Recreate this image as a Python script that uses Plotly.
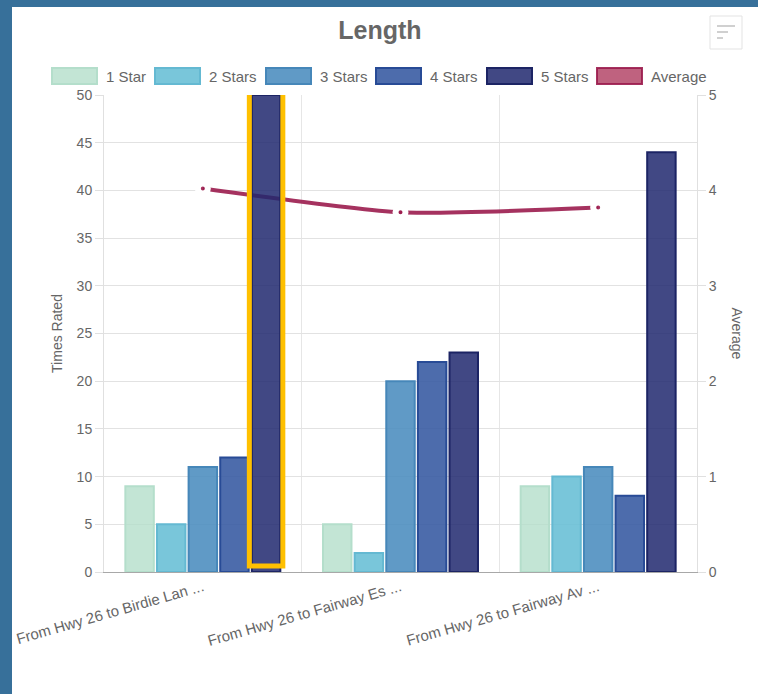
import plotly.graph_objects as go

categories = ["From Hwy 26 to Birdie Lan ...", "From Hwy 26 to Fairway Es ...", "From Hwy 26 to Fairway Av ..."]
series_names = ["1 Star", "2 Stars", "3 Stars", "4 Stars", "5 Stars"]
one_star = [9, 5, 9]
two_stars = [5, 2, 10]
three_stars = [11, 20, 11]
four_stars = [12, 22, 8]
five_stars = [50, 23, 44]
average = [4.02, 3.77, 3.82]
highlight_category = 0
highlight_series = 4

series_values = [one_star, two_stars, three_stars, four_stars, five_stars]
fills = ["rgba(180,222,203,0.8)", "rgba(106,192,214,0.9)", "rgba(74,140,190,0.88)",
         "rgba(52,88,160,0.88)", "rgba(32,40,110,0.85)"]
borders = ["rgba(180,222,203,1)", "rgba(100,185,210,1)", "rgba(70,135,185,1)",
           "rgba(40,75,150,1)", "rgba(28,36,100,1)"]
avg_color = "rgba(155,28,78,0.9)"
avg_fill = "rgba(180,70,105,0.85)"
font_family = "Liberation Sans, Arial, sans-serif"
text_color = "#666666"

# plot area in pixels (used to place decorations in paper coordinates)
W, H = 758, 694
L, R, T, B = 104, 61, 95, 122
PW, PH = W - L - R, H - T - B


def px(x):
    return (x - L) / PW


def py(y):
    return (H - B - y) / PH


fig = go.Figure()

# line on primary (right) axis so the bars draw above it
fig.add_trace(go.Scatter(
    x=categories, y=average, name="Average", yaxis="y", mode="lines+markers",
    line=dict(color=avg_color, width=4, shape="spline", smoothing=0.6),
    marker=dict(size=10, color=avg_color, line=dict(color="white", width=6)),
    showlegend=False,
))

for i, (name, vals) in enumerate(zip(series_names, series_values)):
    fig.add_trace(go.Bar(
        x=categories, y=vals, name=name, yaxis="y2",
        marker=dict(color=fills[i], line=dict(color=borders[i], width=2)),
        showlegend=False,
    ))

# highlight box around selected bar computed from bar layout parameters
bargap = 0.2
bargroupgap = 0.1
n = len(series_names)
slot = (1 - bargap) / n
center = highlight_category - (1 - bargap) / 2 + slot * (highlight_series + 0.5)
half = slot * (1 - bargroupgap) / 2
pad = 0.0127
fig.add_shape(type="rect", xref="x", yref="y2",
              x0=center - half - pad, x1=center + half + pad,
              y0=0.63, y1=series_values[highlight_series][highlight_category] + 0.26,
              line=dict(color="#FFC000", width=5), layer="above")

# outer blue frame
frame = "#37709A"
fig.add_shape(type="rect", xref="paper", yref="paper", x0=px(-5), x1=px(12), y0=py(H + 5), y1=py(-5),
              fillcolor=frame, line_width=0, layer="below")
fig.add_shape(type="rect", xref="paper", yref="paper", x0=px(-5), x1=px(W + 5), y0=py(7), y1=py(-5),
              fillcolor=frame, line_width=0, layer="below")
# menu icon
fig.add_shape(type="rect", xref="paper", yref="paper", x0=px(710), x1=px(742), y0=py(49), y1=py(16),
              fillcolor="white", line=dict(color="#e3e3e3", width=1))
for yy, xe in [(26, 735), (32, 728), (38, 723)]:
    fig.add_shape(type="line", xref="paper", yref="paper", x0=px(717), x1=px(xe), y0=py(yy), y1=py(yy),
                  line=dict(color="#d0d0d0", width=2))

# legend drawn as boxes + labels
legend_names = series_names + ["Average"]
legend_fills = fills + [avg_fill]
legend_borders = borders + [avg_color]
legend_x = [52, 155, 266, 376, 487, 597]
annotations = []
for name, fc, bc, x0 in zip(legend_names, legend_fills, legend_borders, legend_x):
    fig.add_shape(type="rect", xref="paper", yref="paper", x0=px(x0), x1=px(x0 + 45),
                  y0=py(84), y1=py(68), fillcolor=fc, line=dict(color=bc, width=2))
    annotations.append(dict(text=name, xref="paper", yref="paper", x=px(x0 + 52), y=py(76.5),
                            xanchor="left", yanchor="middle", showarrow=False,
                            font=dict(size=15, color=text_color)))

annotations.append(dict(text="Average", textangle=90, xref="paper", yref="paper", x=px(727), y=0.5,
                        xanchor="left", yanchor="middle", showarrow=False,
                        font=dict(size=14, color=text_color)))

fig.update_layout(
    width=W, height=H,
    margin=dict(l=L, r=R, t=T, b=B),
    paper_bgcolor="white", plot_bgcolor="white",
    font=dict(family=font_family, color=text_color, size=14),
    title=dict(text="<b>Length</b>", x=380 / W, xref="container", xanchor="center",
               y=1 - 30 / H, yanchor="middle", font=dict(size=25, color=text_color)),
    barmode="group", bargap=bargap, bargroupgap=bargroupgap,
    showlegend=False,
    xaxis=dict(type="category", tickson="boundaries", showgrid=True, gridcolor="#e6e6e6",
               tickangle=-16, ticks="", showline=True, linecolor="#a8a8a8",
               tickfont=dict(size=15, color=text_color), range=[-0.5, 2.5]),
    yaxis2=dict(range=[0, 50], dtick=5, showgrid=True, gridcolor="#e2e2e2", zeroline=False,
                overlaying="y", side="left",
                ticks="outside", ticklen=8, tickcolor="#e0e0e0", showline=True, linecolor="#e0e0e0",
                title=dict(text="Times Rated", font=dict(size=14, color=text_color), standoff=10),
                tickfont=dict(size=14, color=text_color)),
    yaxis=dict(range=[0, 5], dtick=1, side="right", showgrid=False,
               zeroline=False, ticks="outside", ticklen=8, tickcolor="#e0e0e0",
               showline=True, linecolor="#e0e0e0", tickfont=dict(size=14, color=text_color)),
    annotations=annotations,
)

fig.write_html("out.html", config={"displayModeBar": False},
               post_script="document.body.style.margin='0px';")
